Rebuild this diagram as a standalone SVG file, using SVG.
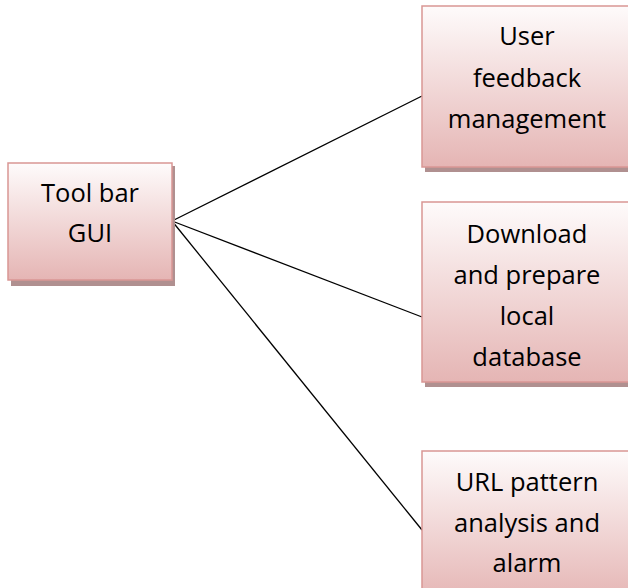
<svg xmlns="http://www.w3.org/2000/svg" width="628" height="588" viewBox="0 0 628 588">
<defs>
<linearGradient id="g" x1="0" y1="0" x2="0" y2="1">
<stop offset="0" stop-color="#fefbfb"/>
<stop offset="1" stop-color="#e5b5b4"/>
</linearGradient>
<style>
.shadow{fill:#b09090;}
.box{fill:url(#g);stroke:#d99694;stroke-width:1.5;}
.t{font-family:"Open Sans","Liberation Sans",sans-serif;font-size:25.5px;fill:#000;text-anchor:middle;}
.c{stroke:#000;stroke-width:1.3;fill:none;}
</style>
</defs>
<rect width="628" height="588" fill="#fff"/>
<g id="connectors">
<line class="c" x1="172" y1="221" x2="422" y2="96"/>
<line class="c" x1="172" y1="221" x2="422" y2="317"/>
<line class="c" x1="172" y1="221" x2="422" y2="530"/>
</g>
<g id="toolbar">
<rect class="shadow" x="11" y="166" width="164" height="120"/>
<rect class="box" x="8" y="163" width="164" height="117"/>
<text class="t" x="90" y="202">Tool bar</text>
<text class="t" x="90" y="242">GUI</text>
</g>
<g id="feedback">
<rect class="shadow" x="425" y="9" width="210" height="163"/>
<rect class="box" x="422" y="6" width="210" height="161"/>
<text class="t" x="527" y="45">User</text>
<text class="t" x="527" y="87">feedback</text>
<text class="t" x="527" y="128">management</text>
</g>
<g id="download">
<rect class="shadow" x="425" y="205" width="210" height="182"/>
<rect class="box" x="422" y="202" width="210" height="180"/>
<text class="t" x="527" y="243">Download</text>
<text class="t" x="527" y="284">and prepare</text>
<text class="t" x="527" y="325">local</text>
<text class="t" x="527" y="366">database</text>
</g>
<g id="url">
<rect class="shadow" x="425" y="454" width="210" height="150"/>
<rect class="box" x="422" y="451" width="210" height="150"/>
<text class="t" x="527" y="491">URL pattern</text>
<text class="t" x="527" y="532">analysis and</text>
<text class="t" x="527" y="572">alarm</text>
</g>
</svg>
